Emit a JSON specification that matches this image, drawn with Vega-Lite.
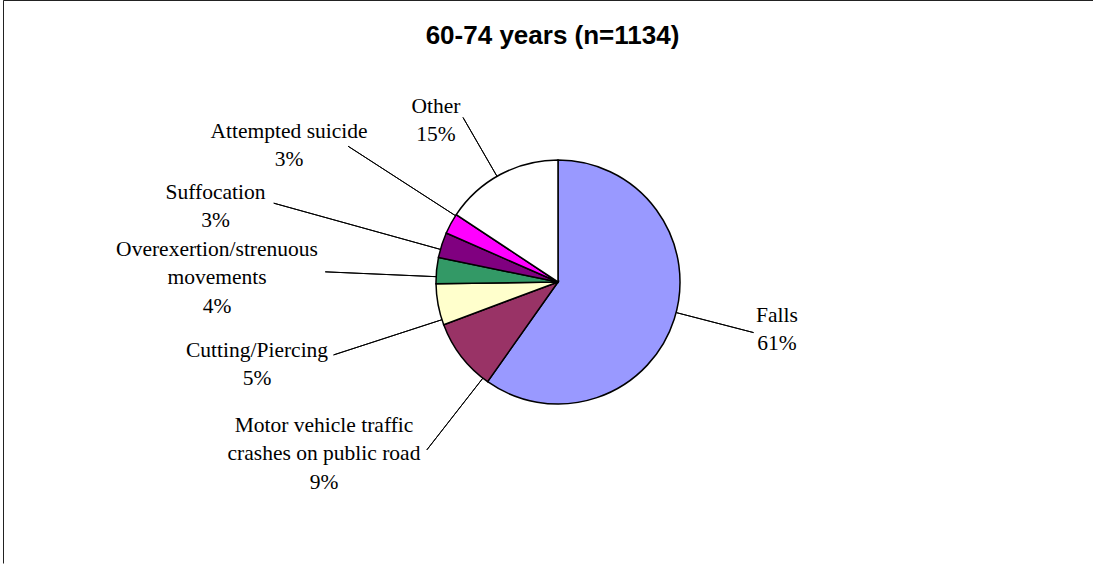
{
  "$schema": "https://vega.github.io/schema/vega-lite/v6.json",
  "width": 1109,
  "height": 563,
  "autosize": {"type": "none"},
  "padding": {"left": 3.5, "top": 0.5, "right": -19.5, "bottom": 6.5},
  "background": "white",
  "title": {
    "text": "60-74 years (n=1134)",
    "font": "Liberation Sans",
    "fontSize": 26,
    "fontWeight": "bold",
    "color": "black",
    "anchor": "middle",
    "frame": "group",
    "offset": -49,
    "dx": -5.5
  },
  "data": {
    "values": [
      {"idx": 1, "cause": "Falls", "value": 678, "label": "Falls\n61%"},
      {"idx": 2, "cause": "Motor vehicle traffic crashes on public road", "value": 108, "label": "Motor vehicle traffic\ncrashes on public road\n9%"},
      {"idx": 3, "cause": "Cutting/Piercing", "value": 62, "label": "Cutting/Piercing\n5%"},
      {"idx": 4, "cause": "Overexertion/strenuous movements", "value": 39, "label": "Overexertion/strenuous\nmovements\n4%"},
      {"idx": 5, "cause": "Suffocation", "value": 38, "label": "Suffocation\n3%"},
      {"idx": 6, "cause": "Attempted suicide", "value": 31, "label": "Attempted suicide\n3%"},
      {"idx": 7, "cause": "Other", "value": 178, "label": "Other\n15%"}
    ]
  },
  "transform": [
    {"stack": "value", "groupby": [], "sort": [{"field": "idx", "order": "ascending"}], "as": ["v0", "v1"]}
  ],
  "layer": [
    {
      "transform": [{"filter": "datum.idx === 1"}],
      "mark": {"type": "rect", "filled": false, "stroke": "#222222", "strokeWidth": 1, "strokeDash": [1089.5, 1691.5, 563]},
      "encoding": {}
    },
    {
      "mark": {"type": "arc", "radius": 122, "stroke": "black", "strokeWidth": 1.5},
      "encoding": {
        "theta": {"field": "value", "type": "quantitative", "stack": true},
        "order": {"field": "idx", "type": "quantitative", "sort": "ascending"},
        "color": {
          "field": "cause",
          "type": "nominal",
          "scale": {
            "domain": ["Falls", "Motor vehicle traffic crashes on public road", "Cutting/Piercing", "Overexertion/strenuous movements", "Suffocation", "Attempted suicide", "Other"],
            "range": ["#9999FF", "#993366", "#FFFFCC", "#339966", "#800080", "#FF00FF", "#FFFFFF"]
          },
          "legend": null
        }
      }
    },
    {
      "transform": [{"filter": "datum.idx === 1"}],
      "mark": {"type": "arc", "radius": 202, "radius2": 122, "thetaOffset": 1.8239, "theta2Offset": 1.8239, "filled": false, "stroke": "black", "strokeWidth": 1},
      "encoding": {"theta": {"field": "v0", "type": "quantitative", "stack": null}, "theta2": {"field": "v0"}}
    },
    {
      "transform": [{"filter": "datum.idx === 2"}],
      "mark": {"type": "arc", "radius": 213, "radius2": 122, "thetaOffset": 0.0482, "theta2Offset": 0.0482, "filled": false, "stroke": "black", "strokeWidth": 1},
      "encoding": {"theta": {"field": "v0", "type": "quantitative", "stack": null}, "theta2": {"field": "v0"}}
    },
    {
      "transform": [{"filter": "datum.idx === 3"}],
      "mark": {"type": "arc", "radius": 236, "radius2": 122, "thetaOffset": 0.0432, "theta2Offset": 0.0432, "filled": false, "stroke": "black", "strokeWidth": 1},
      "encoding": {"theta": {"field": "v0", "type": "quantitative", "stack": null}, "theta2": {"field": "v0"}}
    },
    {
      "transform": [{"filter": "datum.idx === 4"}],
      "mark": {"type": "arc", "radius": 233, "radius2": 122, "thetaOffset": 0.0575, "theta2Offset": 0.0575, "filled": false, "stroke": "black", "strokeWidth": 1},
      "encoding": {"theta": {"field": "v0", "type": "quantitative", "stack": null}, "theta2": {"field": "v0"}}
    },
    {
      "transform": [{"filter": "datum.idx === 5"}],
      "mark": {"type": "arc", "radius": 295, "radius2": 122, "thetaOffset": 0.0683, "theta2Offset": 0.0683, "filled": false, "stroke": "black", "strokeWidth": 1},
      "encoding": {"theta": {"field": "v0", "type": "quantitative", "stack": null}, "theta2": {"field": "v0"}}
    },
    {
      "transform": [{"filter": "datum.idx === 6"}],
      "mark": {"type": "arc", "radius": 250, "radius2": 122, "thetaOffset": 0.1614, "theta2Offset": 0.1614, "filled": false, "stroke": "black", "strokeWidth": 1},
      "encoding": {"theta": {"field": "v0", "type": "quantitative", "stack": null}, "theta2": {"field": "v0"}}
    },
    {
      "transform": [{"filter": "datum.idx === 7"}],
      "mark": {"type": "arc", "radius": 190, "radius2": 122, "thetaOffset": 0.4627, "theta2Offset": 0.4627, "filled": false, "stroke": "black", "strokeWidth": 1},
      "encoding": {"theta": {"field": "v0", "type": "quantitative", "stack": null}, "theta2": {"field": "v0"}}
    },
    {
      "transform": [{"filter": "datum.idx === 1"}],
      "mark": {"type": "text", "radius": 221.6, "thetaOffset": 1.7235, "font": "Liberation Serif", "fontSize": 21.5, "lineHeight": 28.5, "lineBreak": "\n", "align": "center", "baseline": "middle", "color": "black"},
      "encoding": {"theta": {"field": "v0", "type": "quantitative", "stack": null}, "text": {"field": "label"}}
    },
    {
      "transform": [{"filter": "datum.idx === 2"}],
      "mark": {"type": "text", "radius": 274.6, "thetaOffset": 0.4051, "font": "Liberation Serif", "fontSize": 21.5, "lineHeight": 28.5, "lineBreak": "\n", "align": "center", "baseline": "middle", "color": "black"},
      "encoding": {"theta": {"field": "v0", "type": "quantitative", "stack": null}, "text": {"field": "label"}}
    },
    {
      "transform": [{"filter": "datum.idx === 3"}],
      "mark": {"type": "text", "radius": 308.7, "thetaOffset": 0.133, "font": "Liberation Serif", "fontSize": 21.5, "lineHeight": 28.5, "lineBreak": "\n", "align": "center", "baseline": "middle", "color": "black"},
      "encoding": {"theta": {"field": "v0", "type": "quantitative", "stack": null}, "text": {"field": "label"}}
    },
    {
      "transform": [{"filter": "datum.idx === 4"}],
      "mark": {"type": "text", "radius": 342.5, "thetaOffset": 0.1083, "font": "Liberation Serif", "fontSize": 21.5, "lineHeight": 28.5, "lineBreak": "\n", "align": "center", "baseline": "middle", "color": "black"},
      "encoding": {"theta": {"field": "v0", "type": "quantitative", "stack": null}, "text": {"field": "label"}}
    },
    {
      "transform": [{"filter": "datum.idx === 5"}],
      "mark": {"type": "text", "radius": 353.9, "thetaOffset": 0.0528, "font": "Liberation Serif", "fontSize": 21.5, "lineHeight": 28.5, "lineBreak": "\n", "align": "center", "baseline": "middle", "color": "black"},
      "encoding": {"theta": {"field": "v0", "type": "quantitative", "stack": null}, "text": {"field": "label"}}
    },
    {
      "transform": [{"filter": "datum.idx === 6"}],
      "mark": {"type": "text", "radius": 308.1, "thetaOffset": 0.0967, "font": "Liberation Serif", "fontSize": 21.5, "lineHeight": 28.5, "lineBreak": "\n", "align": "center", "baseline": "middle", "color": "black"},
      "encoding": {"theta": {"field": "v0", "type": "quantitative", "stack": null}, "text": {"field": "label"}}
    },
    {
      "transform": [{"filter": "datum.idx === 7"}],
      "mark": {"type": "text", "radius": 213.6, "thetaOffset": 0.3782, "font": "Liberation Serif", "fontSize": 21.5, "lineHeight": 28.5, "lineBreak": "\n", "align": "center", "baseline": "middle", "color": "black"},
      "encoding": {"theta": {"field": "v0", "type": "quantitative", "stack": null}, "text": {"field": "label"}}
    }
  ]
}
